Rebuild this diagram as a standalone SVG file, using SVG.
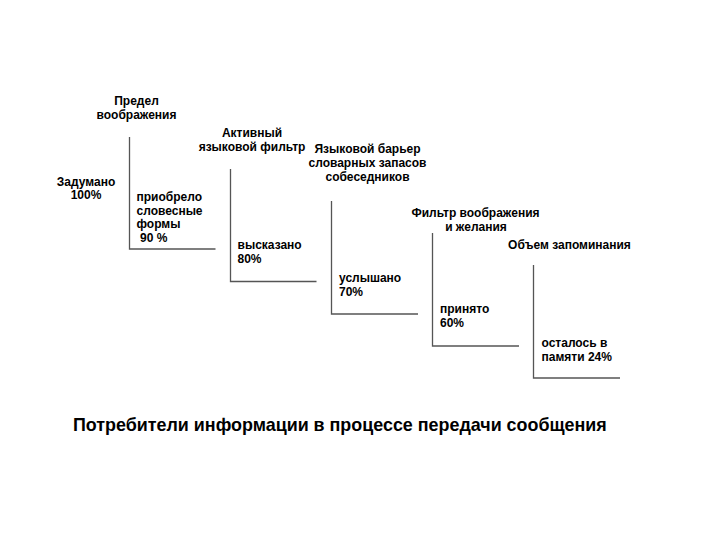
<svg xmlns="http://www.w3.org/2000/svg" width="720" height="540" viewBox="0 0 720 540">
<style>
.t{font-family:"Liberation Sans",Arial,sans-serif;font-weight:bold;font-size:12px;fill:#000}
.c{text-anchor:middle}
.title{font-family:"Liberation Sans",Arial,sans-serif;font-weight:bold;font-size:17.9px;fill:#000}
.ln{fill:none;stroke:#555;stroke-width:1.3}
</style>
<rect width="720" height="540" fill="#fff"/>
<g id="connectors">
<path class="ln" d="M129.5 137V249H215.5"/>
<path class="ln" d="M230.5 169V281.5H316.5"/>
<path class="ln" d="M331.5 201V314H418"/>
<path class="ln" d="M432.5 233V346H519"/>
<path class="ln" d="M533.5 265V378H620"/>
</g>
<g id="n-start"><text class="t c" x="86" y="186">Задумано</text><text class="t c" x="86" y="199">100%</text></g>
<g id="n-limit"><text class="t c" x="136.5" y="105">Предел</text><text class="t c" x="136.5" y="119">воображения</text></g>
<g id="n-90"><text class="t" x="136.5" y="201">приобрело</text><text class="t" x="136.5" y="214.5">словесные</text><text class="t" x="136.5" y="228">формы</text><text class="t" x="140" y="241.5">90 %</text></g>
<g id="n-filter"><text class="t c" x="252" y="137">Активный</text><text class="t c" x="252" y="151">языковой фильтр</text></g>
<g id="n-80"><text class="t" x="237.5" y="248.5">высказано</text><text class="t" x="237.5" y="263">80%</text></g>
<g id="n-barrier"><text class="t c" x="367.5" y="153">Языковой барьер</text><text class="t c" x="367.5" y="167">словарных запасов</text><text class="t c" x="367.5" y="181">собеседников</text></g>
<g id="n-70"><text class="t" x="339" y="282">услышано</text><text class="t" x="339" y="295.5">70%</text></g>
<g id="n-wish"><text class="t c" x="475.5" y="217">Фильтр воображения</text><text class="t c" x="476" y="231">и желания</text></g>
<g id="n-60"><text class="t" x="440" y="313">принято</text><text class="t" x="440" y="327">60%</text></g>
<g id="n-memory"><text class="t c" x="569.5" y="248.5">Объем запоминания</text></g>
<g id="n-24"><text class="t" x="541.5" y="347">осталось в</text><text class="t" x="541.5" y="361">памяти 24%</text></g>
<text class="title" x="73" y="431">Потребители информации в процессе передачи сообщения</text>
</svg>
